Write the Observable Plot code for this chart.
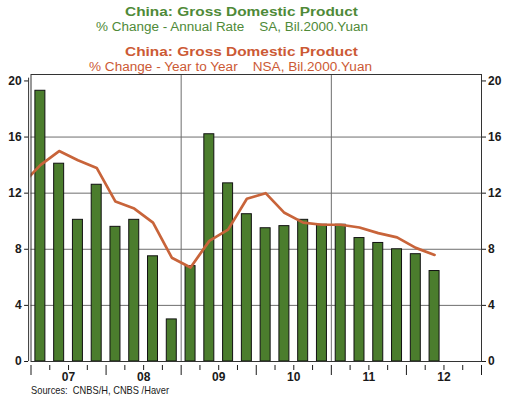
<!DOCTYPE html>
<html>
<head>
<meta charset="utf-8">
<script src="https://cdn.jsdelivr.net/npm/d3@7"></script>
<script src="https://cdn.jsdelivr.net/npm/@observablehq/plot@0.6"></script>
<style>
  html, body { margin: 0; padding: 0; background: #fff; }
  body { width: 509px; height: 398px; overflow: hidden; }
</style>
</head>
<body>
<div id="chart"></div>
<script>
// ---- data ----
const quarters = ["2007Q1","2007Q2","2007Q3","2007Q4","2008Q1","2008Q2","2008Q3","2008Q4",
  "2009Q1","2009Q2","2009Q3","2009Q4","2010Q1","2010Q2","2010Q3","2010Q4",
  "2011Q1","2011Q2","2011Q3","2011Q4","2012Q1","2012Q2"];
const annualRate = [19.3, 14.1, 10.1, 12.6, 9.6, 10.1, 7.5, 3.0,
  6.8, 16.2, 12.7, 10.5, 9.5, 9.65, 10.1, 9.75,
  9.75, 8.8, 8.45, 8.0, 7.65, 6.45];
const yoyQuarters = ["2006Q4", ...quarters];
const yearToYear = [12.6, 14.0, 15.0, 14.35, 13.8, 11.4, 10.9, 9.9, 7.4,
  6.7, 8.6, 9.4, 11.6, 12.0, 10.6, 9.9, 9.75,
  9.75, 9.55, 9.15, 8.85, 8.1, 7.6];
const yTicks = [0, 4, 8, 12, 16, 20];
const years = [2007, 2008, 2009, 2010, 2011, 2012];
const yearLabels = ["07", "08", "09", "10", "11", "12"];
const gridYears = [2009, 2011];

const title1 = "China: Gross Domestic Product";
const subtitle1 = "% Change - Annual Rate    SA, Bil.2000.Yuan";
const title2 = "China: Gross Domestic Product";
const subtitle2 = "% Change - Year to Year    NSA, Bil.2000.Yuan";
const source = "Sources:  CNBS/H, CNBS /Haver";

// ---- derived ----
const qTime = s => +s.slice(0, 4) + (+s.slice(5) - 0.5) / 4;
const barData = quarters.map((q, i) => ({t: qTime(q), v: annualRate[i]}));
const lineData = yoyQuarters.map((q, i) => ({t: qTime(q), v: yearToYear[i]}));
const halfBar = 0.0665;
const qBoundaries = years.flatMap(y => [y + 0.25, y + 0.5, y + 0.75]);
const yBoundaries = [...years, 2013];
const labelData = years.map((y, i) => ({x: y + 0.5, label: yearLabels[i]}));

const GREEN = "#4b7d2d";
const ORANGE = "#c8643a";

const chart = Plot.plot({
  width: 509,
  height: 398,
  marginLeft: 30.5,
  marginRight: 28,
  marginTop: 74,
  marginBottom: 37,
  style: {fontFamily: "'Liberation Sans', Arial, sans-serif", fontSize: "12px", color: "#1a1a1a", background: "#fff"},
  x: {domain: [2007, 2013], axis: null},
  y: {domain: [0, 20.46], axis: null},
  marks: [
    Plot.gridY([4, 8, 12, 16], {stroke: "#6e6e6e", strokeOpacity: 1}),
    Plot.gridX(gridYears, {stroke: "#6e6e6e", strokeOpacity: 1}),
    Plot.rect(barData, {x1: d => d.t - halfBar, x2: d => d.t + halfBar, y1: 0, y2: "v", fill: GREEN, stroke: "#111", strokeWidth: 1}),
    Plot.line(lineData, {x: "t", y: "v", stroke: ORANGE, strokeWidth: 2.7, clip: true}),
    Plot.frame({stroke: "#333"}),
    Plot.ruleX([2007], {y1: 0, y2: 20.2, dx: -2.4, stroke: "#333"}),
    Plot.axisY({anchor: "left", label: null, ticks: yTicks, tickSize: 4, tickPadding: 3, dx: -2.4, fontWeight: "bold", fontSize: 12, tickFormat: d => d}),
    Plot.axisY({anchor: "right", label: null, ticks: yTicks, tickSize: 4, tickPadding: 2.5, fontWeight: "bold", fontSize: 12, tickFormat: d => d}),
    Plot.axisX({anchor: "bottom", label: null, ticks: qBoundaries, tickSize: 5, tickFormat: () => "", dy: 4}),
    Plot.axisX({anchor: "bottom", label: null, ticks: yBoundaries, tickSize: 10, tickFormat: () => "", dy: 4}),
    Plot.text(labelData, {x: "x", text: "label", frameAnchor: "bottom", dy: 19, fontWeight: "bold", fontSize: 12, fill: "#1a1a1a"})
  ]
});

document.getElementById("chart").appendChild(chart);

// titles and source
const svg = d3.select(chart);
const ff = "'Liberation Sans Narrow', 'Liberation Sans', Arial, sans-serif";
function addText(txt, x, y, opts) {
  const t = svg.append("text")
    .attr("x", x).attr("y", y)
    .attr("text-anchor", opts.anchor || "middle")
    .attr("fill", opts.fill)
    .attr("font-family", opts.family || "'Liberation Sans', Arial, sans-serif")
    .attr("font-size", opts.size)
    .attr("font-weight", opts.weight || "normal")
    .text(txt);
  if (opts.len) t.attr("textLength", opts.len).attr("lengthAdjust", "spacingAndGlyphs");
  return t;
}
addText(title1, 241.5, 16, {fill: "#4f8a38", size: 13.5, weight: "bold", len: 233});
addText(subtitle1, 232, 30.5, {fill: "#4f8a38", size: 12.5, family: ff, len: 272});
addText(title2, 241.5, 56.3, {fill: "#cc5a35", size: 13.5, weight: "bold", len: 233});
addText(subtitle2, 230.5, 70.5, {fill: "#cc5a35", size: 12.5, family: ff, len: 283});
addText(source, 31, 394, {fill: "#1a1a1a", size: 10.5, family: ff, anchor: "start", len: 138});
</script>
</body>
</html>
